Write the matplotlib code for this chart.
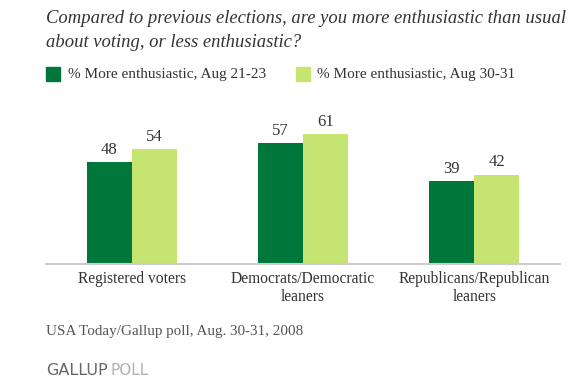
import matplotlib.pyplot as plt
import numpy as np

categories = ['Registered voters', 'Democrats/Democratic\nleaners', 'Republicans/Republican\nleaners']
series_names = ['% More enthusiastic, Aug 21-23', '% More enthusiastic, Aug 30-31']
aug_21_23 = [48, 57, 39]
aug_30_31 = [54, 61, 42]

DARK = '#00773a'
LIGHT = '#c5e472'
TEXT = '#333333'
SERIF = ['Liberation Serif', 'DejaVu Serif']

W, H = 585, 382


def fx(px):
    return px / W


def fy(py):
    # pixel measured from top -> figure fraction
    return 1 - py / H


fig = plt.figure(figsize=(W / 100, H / 100), dpi=100)
ax = fig.add_axes([fx(46), fy(264), fx(514), 149 / H])

x = np.arange(len(categories))
bw = 0.263
b1 = ax.bar(x - bw / 2, aug_21_23, bw, color=DARK)
b2 = ax.bar(x + bw / 2, aug_30_31, bw, color=LIGHT)
for bars, vals in [(b1, aug_21_23), (b2, aug_30_31)]:
    for r, v in zip(bars, vals):
        ax.annotate(str(v), (r.get_x() + r.get_width() / 2, v), xytext=(0, 3),
                    textcoords='offset points', ha='center', va='bottom',
                    fontsize=12, color=TEXT, family=SERIF)

ax.set_xlim(-0.5, 2.5)
ax.set_ylim(0, 70)
for s in ['top', 'right', 'left']:
    ax.spines[s].set_visible(False)
ax.spines['bottom'].set_color('#cccccc')
ax.spines['bottom'].set_linewidth(1.5)
ax.set_yticks([])
ax.set_xticks(x)
ax.set_xticklabels(categories, family=SERIF, fontsize=11.2, color=TEXT, linespacing=1.15)
ax.tick_params(axis='x', length=0, pad=5)

# title, one text per line
fig.text(fx(46), fy(23), 'Compared to previous elections, are you more enthusiastic than usual',
         family=SERIF, style='italic', fontsize=13.4, color=TEXT, va='baseline', ha='left')
fig.text(fx(46), fy(47), 'about voting, or less enthusiastic?',
         family=SERIF, style='italic', fontsize=13.4, color=TEXT, va='baseline', ha='left')

# legend
for sx, tx, col, name in [(46, 68, DARK, series_names[0]), (296, 317, LIGHT, series_names[1])]:
    fig.patches.append(plt.Rectangle((fx(sx), fy(81)), fx(14), 14 / H, color=col,
                                     transform=fig.transFigure, figure=fig))
    fig.text(fx(tx), fy(78), name, family=SERIF, fontsize=11, color=TEXT, va='baseline', ha='left')

# source
fig.text(fx(46), fy(335), 'USA Today/Gallup poll, Aug. 30-31, 2008', family=SERIF,
         fontsize=10.9, color='#555555', va='baseline', ha='left')

# logo
t = fig.text(fx(46), fy(375), 'GALLUP', family='Liberation Sans Narrow', fontsize=11.5,
             color='#666666', va='baseline', ha='left')
fig.canvas.draw()
bb = t.get_window_extent()
fig.text(fx(bb.x1 + 3), fy(375), 'POLL', family='Liberation Sans Narrow', fontsize=11,
         color='#b0b0b0', va='baseline', ha='left')

fig.savefig('out.png', dpi=100)
